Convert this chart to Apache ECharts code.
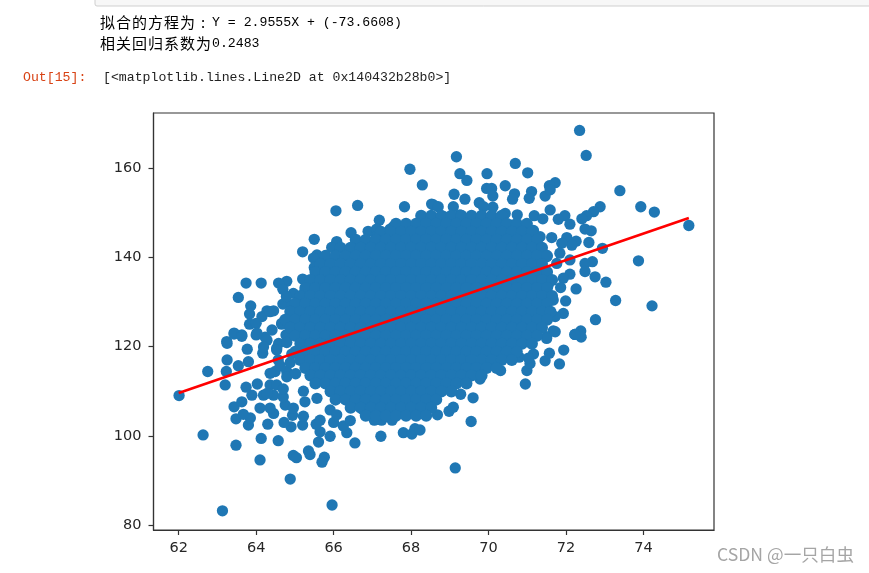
<!DOCTYPE html>
<html><head><meta charset="utf-8">
<style>html,body{margin:0;padding:0;background:#fff}#c{width:869px;height:573px}</style>
<script src="https://cdn.jsdelivr.net/npm/echarts@6/dist/echarts.min.js"></script>
</head><body><div id="c"></div>
<script>
const xTicks=[62,64,66,68,70,72,74];
const yTicks=[80,100,120,140,160];
const fitLine=[[62.0,109.6],[75.17,148.8]];
const outputLine1='拟合的方程为';
const outputColon=':';
const outputLine1b='Y = 2.9555X + (-73.6608)';
const outputLine2='相关回归系数为';
const outputLine2b='0.2483';
const promptText='Out[15]:';
const reprText='[<matplotlib.lines.Line2D at 0x140432b28b0>]';
const watermark='CSDN @一只白虫';
const edgePoints=[
[67.97,159.7],[68.29,156.2],[66.62,151.6],[66.06,150.4],[67.83,151.3],[68.53,151.9],[67.18,148.3],[66.45,145.5],[65.5,144.0],[65.2,141.2],[66.89,145.8],[67.11,146.3],[67.1,144.6],[67.46,146.3],[67.54,146.8],[67.93,146.1],[66.08,143.5],[65.95,142.2],[66.32,141.5],[66.5,141.5],[66.81,142],[66.92,142],[65.57,140.5],[65.48,139.8],[65.82,139.2],[65.5,137.7],[66.94,138.8],[66.12,137.1],[65.2,135.1],[64.79,134.6],[64.58,134.2],[64.13,134.2],[63.74,134.2],[63.54,131.0],[63.86,129.1],[63.83,127.3],[64.69,132.8],[64.96,131.9],[64.69,129.5],[64.96,129.3],[64.28,128],[64.45,128],[64.15,126.7],[63.83,125],[64,125.2],[63.43,123],[63.63,122.6],[64.66,125],[64.41,123.7],[64.77,122.6],[63.24,121.1],[64,122.6],[64.23,122.1],
[72.35,168.4],[72.52,162.8],[69.17,162.5],[70.69,161],[71.01,158.9],[69.96,158.7],[69.26,158.7],[69.44,157.2],[71.72,156.7],[71.57,156],[73.39,154.9],[70.43,156],[69.95,155.4],[70.08,155.4],[70.11,153.7],[69.11,154.1],[70.67,154.2],[71.11,154.7],[71.05,153.2],[71.46,153.7],[71.59,155.1],[70.62,153],[73.93,151.3],[74.28,150.1],[72.88,151.3],[72.71,150.2],[72.53,149.3],[72.41,148.6],[75.17,147.1],[71.97,149.3],[71.8,148.5],[72.1,147.4],[71.59,150.6],[71.18,149.3],[71.4,148.6],[72.49,146.3],[72.65,145.9],[71.63,144.4],[72.02,144.4],[72.26,143.6],[72.15,142.7],[71.89,143.1],[72.59,143.3],[72.94,142],[73.87,139.2],[72.68,139],[72.49,138.6],[72.49,136.8],[72.75,135.6],[73.03,134.4],[72.1,136.2],[71.93,135.3],[71.86,133.2],[72.26,132.9],[71.67,130.4],[71.99,130.2],[73.28,130.3],[74.22,129.1],[71.93,127.4],[71.72,126.7],[72.76,126],[71.67,123.5],[72.38,123.5],[72.23,122.7],[71.5,122.2],
[68.58,151.7],[68.7,151.3],[69.09,151.3],[69.39,153],[69.76,152.2],[70.11,151.2],[70.43,149.8],[70.74,149.5],[68.84,149.1],[69.26,149.5],[69.87,151.3],[70.12,148],[70.6,147.2],[70.77,146.9],[71.16,146],[69.35,147],[70.25,145],[70.55,144.8],[70.94,145],[71.33,144.6],[71.84,140.9],[71.76,138.6],[71.5,140.1],[71.54,133.8],[71.41,131.2],[72.1,139.4],
[65.96,84.5],[63.13,83.2],[64.88,90.3],[64.1,94.6],[64.96,95.6],[65.04,95.1],[65.35,96.6],[65.39,95.8],[65.76,95.2],[65.7,94.1],[66.55,98.4],[65.61,98.6],[63.48,97.9],[64.57,98.9],[64.13,99.4],[62.63,100.2],[65.91,99.9],[67.22,99.9],[66.34,100.7],[67.8,100.7],[68.02,100.4],[68.1,101.6],[68.23,101.3],[65.65,100.9],[64.9,102],[65.2,102.4],[64.3,102.6],[63.8,102.4],[63.48,103.8],[64.72,103],[65.55,102.6],[66.25,102.2],[67.51,103.5],[68.36,104.8],[67.05,103.5],[67.24,103.5],[66.43,103.4],[65.65,103.5],[66,103],[65.22,104.4],[63.85,104],[63.67,104.8],[63.43,106.5],[63.63,107.6],[64.45,105],[64.36,106.2],[64.1,106.2],[64.94,104.6],[64.75,106.9],[64.96,106.2],[63.89,109.1],[63.74,110.9],[64.03,111.6],[64.19,109.1],[64.45,109.1],[64.7,108.7],[63.2,111.4],[62.01,109],[62.75,114.4],[63.23,114.4],[63.54,115.7],[63.8,116.6],[63.25,117],[63.77,119.4],[63.25,120.7],[64.17,118.5],[64.53,119.6],[64.28,121.4],[64.58,120.7],[64.02,123],[64.79,122.4],[63.43,122.8],[63.63,122.3],[64.49,114.4],[64.36,111.4],[64.53,111.4],[64.79,114.4],[65.22,110],[65.26,107.6],[65.57,108.4],[65.91,105.8],[66.08,104.7],[66.77,105.8],[67.46,106.2],[67.89,106.2],[68.05,107.6],[68.23,109.5],[67.63,108],[66.25,108.8],
[69.14,92.8],[69.55,103.2],[68.68,104.7],[68.98,105.5],[69.09,106.4],[69.6,108.5],[69.28,109.3],[68.62,109.5],[69.78,112.7],[69.22,112.5],[70.95,111.6],[70.31,114.6],[70.99,114.6],[69.48,114.1],[71.83,116.1],[71.46,116.8],[71.07,116.2],[69.74,115.7],[69.91,115.7],[70.12,116.2],[70.43,117.6],[70.79,117.6],[71.16,118.3],[71.57,118.5],[71.94,119.2],[71.03,117.4],[70.34,120.3],[71.5,121.8],[70.77,121.1],[70.99,121.1],[70.04,119.2],[72.39,122.1],[72.23,122.7],[71.72,123.3],
[64.92,129.3],[65.26,132.3],[64.36,127.8],[64.66,125.2],[64.96,127.5],[64.78,131.2],[64.19,119.9],[64.53,119.2],[64.79,120.9],[64.57,117],[64.36,114],[64.79,113.2],[64.7,110.5],[64.28,109.5],[64.62,115.7],[64.92,118.3],[64.88,116.4],[65.02,113.9]
];
const coreRows=[
[149.3,[68.26,68.52,68.78,69.04,69.30,69.56,69.82,70.08,70.34]],
[147.5,[67.61,67.87,68.13,68.39,68.65,68.91,69.17,69.43,69.69,69.95,70.21,70.47,70.73,70.99]],
[145.7,[67.22,67.48,67.74,68.00,68.26,68.52,68.78,69.04,69.30,69.56,69.82,70.08,70.34,70.60,70.86,71.12]],
[143.9,[66.57,66.83,67.09,67.35,67.61,67.87,68.13,68.39,68.65,68.91,69.17,69.43,69.69,69.95,70.21,70.47,70.73,70.99,71.25]],
[142.1,[66.18,66.44,66.70,66.96,67.22,67.48,67.74,68.00,68.26,68.52,68.78,69.04,69.30,69.56,69.82,70.08,70.34,70.60,70.86,71.12,71.38]],
[140.3,[65.79,66.05,66.31,66.57,66.83,67.09,67.35,67.61,67.87,68.13,68.39,68.65,68.91,69.17,69.43,69.69,69.95,70.21,70.47,70.73,70.99,71.25,71.51]],
[138.5,[65.66,65.92,66.18,66.44,66.70,66.96,67.22,67.48,67.74,68.00,68.26,68.52,68.78,69.04,69.30,69.56,69.82,70.08,70.34,70.60,70.86,71.12,71.38]],
[136.7,[65.53,65.79,66.05,66.31,66.57,66.83,67.09,67.35,67.61,67.87,68.13,68.39,68.65,68.91,69.17,69.43,69.69,69.95,70.21,70.47,70.73,70.99,71.25,71.51]],
[134.9,[65.40,65.66,65.92,66.18,66.44,66.70,66.96,67.22,67.48,67.74,68.00,68.26,68.52,68.78,69.04,69.30,69.56,69.82,70.08,70.34,70.60,70.86,71.12,71.38,71.64]],
[133.1,[65.27,65.53,65.79,66.05,66.31,66.57,66.83,67.09,67.35,67.61,67.87,68.13,68.39,68.65,68.91,69.17,69.43,69.69,69.95,70.21,70.47,70.73,70.99,71.25,71.51]],
[131.3,[65.14,65.40,65.66,65.92,66.18,66.44,66.70,66.96,67.22,67.48,67.74,68.00,68.26,68.52,68.78,69.04,69.30,69.56,69.82,70.08,70.34,70.60,70.86,71.12,71.38,71.64]],
[129.6,[65.01,65.27,65.53,65.79,66.05,66.31,66.57,66.83,67.09,67.35,67.61,67.87,68.13,68.39,68.65,68.91,69.17,69.43,69.69,69.95,70.21,70.47,70.73,70.99,71.25,71.51]],
[127.8,[64.88,65.14,65.40,65.66,65.92,66.18,66.44,66.70,66.96,67.22,67.48,67.74,68.00,68.26,68.52,68.78,69.04,69.30,69.56,69.82,70.08,70.34,70.60,70.86,71.12,71.38,71.60]],
[126.0,[64.75,65.01,65.27,65.53,65.79,66.05,66.31,66.57,66.83,67.09,67.35,67.61,67.87,68.13,68.39,68.65,68.91,69.17,69.43,69.69,69.95,70.21,70.47,70.73,70.99,71.25,71.51]],
[124.2,[64.88,65.14,65.40,65.66,65.92,66.18,66.44,66.70,66.96,67.22,67.48,67.74,68.00,68.26,68.52,68.78,69.04,69.30,69.56,69.82,70.08,70.34,70.60,70.86,71.12,71.38]],
[122.4,[65.01,65.27,65.53,65.79,66.05,66.31,66.57,66.83,67.09,67.35,67.61,67.87,68.13,68.39,68.65,68.91,69.17,69.43,69.69,69.95,70.21,70.47,70.73,70.99,71.25]],
[120.6,[65.14,65.40,65.66,65.92,66.18,66.44,66.70,66.96,67.22,67.48,67.74,68.00,68.26,68.52,68.78,69.04,69.30,69.56,69.82,70.08,70.34,70.60,70.86,71.12]],
[118.8,[65.01,65.27,65.53,65.79,66.05,66.31,66.57,66.83,67.09,67.35,67.61,67.87,68.13,68.39,68.65,68.91,69.17,69.43,69.69,69.95,70.21,70.47,70.73]],
[117.0,[65.14,65.40,65.66,65.92,66.18,66.44,66.70,66.96,67.22,67.48,67.74,68.00,68.26,68.52,68.78,69.04,69.30,69.56,69.82,70.08,70.34,70.60]],
[115.2,[65.27,65.53,65.79,66.05,66.31,66.57,66.83,67.09,67.35,67.61,67.87,68.13,68.39,68.65,68.91,69.17,69.43,69.69,69.95,70.21]],
[113.5,[65.40,65.66,65.92,66.18,66.44,66.70,66.96,67.22,67.48,67.74,68.00,68.26,68.52,68.78,69.04,69.30,69.56,69.82]],
[111.7,[65.53,65.79,66.05,66.31,66.57,66.83,67.09,67.35,67.61,67.87,68.13,68.39,68.65,68.91,69.17,69.43]],
[109.9,[65.92,66.18,66.44,66.70,66.96,67.22,67.48,67.74,68.00,68.26,68.52,68.78,69.04]],
[108.1,[66.05,66.31,66.57,66.83,67.09,67.35,67.61,67.87,68.13,68.39,68.65]],
[106.3,[66.44,66.70,66.96,67.22,67.48,67.74,68.00,68.26,68.52]],
[104.5,[66.83,67.09,67.35,67.61,67.87,68.13,68.39]]
];
const corePoints=[];
coreRows.forEach(function(r){r[1].forEach(function(x){corePoints.push([x,r[0]]);});});

const mono='"Liberation Mono",monospace';
const cjk='"Noto Sans CJK SC",sans-serif';
const ink='#262626';
const rich={
  c:{fontFamily:cjk,fontSize:15,color:'#2a2a2a',width:16},
  p:{fontFamily:cjk,fontSize:15,color:'#2a2a2a',width:11,padding:[0,0,0,5]},
  m:{fontFamily:mono,fontSize:13.2,color:'#222'}
};
function cjkRich(s){return '{c|'+s.split('').join('}{c|')+'}';}
const chart=echarts.init(document.getElementById('c'),null,{renderer:'canvas'});
chart.setOption({
  animation:false,backgroundColor:'#fff',
  grid:{left:153.5,top:113,width:560.5,height:417,show:true,borderColor:'#333',borderWidth:1.2,backgroundColor:'#fff'},
  xAxis:{type:'value',min:61.35,max:75.82,splitLine:{show:false},
    axisLine:{lineStyle:{color:'#333',width:1.2},onZero:false},
    axisTick:{customValues:xTicks,length:5,lineStyle:{color:'#333',width:1.2}},
    axisLabel:{customValues:xTicks,color:ink,fontFamily:'DejaVu Sans',fontSize:14.5,margin:11}},
  yAxis:{type:'value',min:78.9,max:172.3,splitLine:{show:false},
    axisLine:{show:true,lineStyle:{color:'#333',width:1.2},onZero:false},
    axisTick:{show:true,customValues:yTicks,length:5,lineStyle:{color:'#333',width:1.2}},
    axisLabel:{customValues:yTicks,color:ink,fontFamily:'DejaVu Sans',fontSize:14.5,margin:12}},
  series:[
    {type:'scatter',data:edgePoints,symbolSize:11.3,itemStyle:{color:'#1f77b4',opacity:1},silent:true,z:2},
    {type:'scatter',data:corePoints,symbolSize:12,itemStyle:{color:'#1f77b4',opacity:1},silent:true,z:2},
    {type:'line',data:fitLine,showSymbol:false,lineStyle:{color:'#ff0000',width:2.6},silent:true,z:3}
  ],
  graphic:[
    {type:'rect',silent:true,shape:{x:95,y:-6,width:780,height:12,r:2},style:{fill:'#f7f7f7',stroke:'#cfcfcf',lineWidth:1}},
    {type:'text',silent:true,x:100,y:15,style:{text:cjkRich(outputLine1)+'{p|'+outputColon+'}{m|'+outputLine1b+'}',rich:rich}},
    {type:'text',silent:true,x:100,y:36,style:{text:cjkRich(outputLine2)+'{m|'+outputLine2b+'}',rich:rich}},
    {type:'text',silent:true,x:23,y:71,style:{text:promptText,font:'13.2px '+mono,fill:'#d84315'}},
    {type:'text',silent:true,x:103,y:71,style:{text:reprText,font:'13.2px '+mono,fill:'#222'}},
    {type:'text',silent:true,x:717,y:546,style:{text:watermark,font:'17.6px "Noto Sans CJK SC",sans-serif',fill:'#a5a5a5'}}
  ]
});
</script></body></html>
